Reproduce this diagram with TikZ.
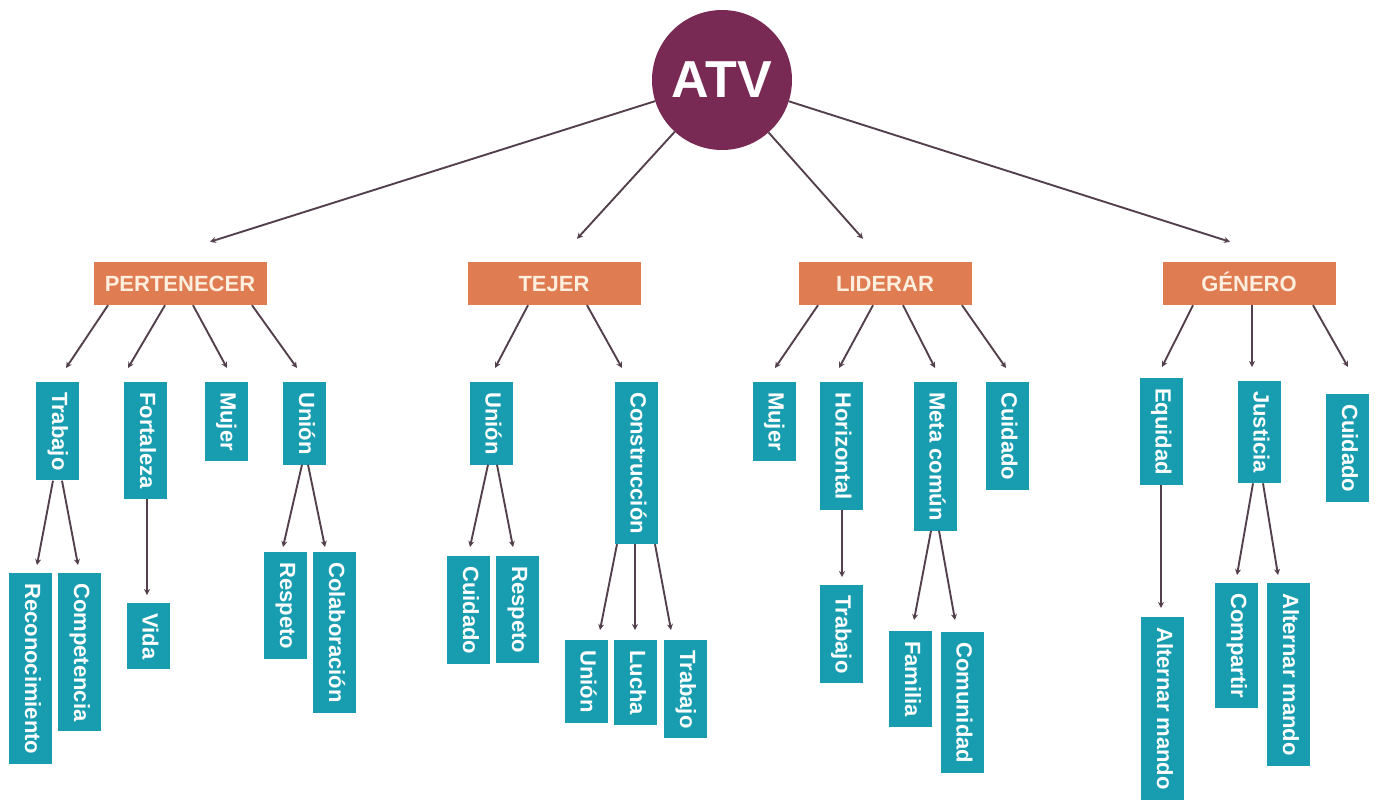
\documentclass[tikz,border=0pt]{standalone}
\usepackage{fontspec}
\setmainfont{Liberation Sans}
\usetikzlibrary{arrows.meta, calc}
\definecolor{myteal}{RGB}{24,157,176}
\definecolor{myorange}{RGB}{224,124,82}
\definecolor{mywine}{RGB}{121,42,84}
\definecolor{mycream}{RGB}{253,238,222}
\definecolor{myline}{RGB}{84,64,76}
\tikzstyle{circ} = [circle, fill=mywine, minimum size=140pt, inner sep=0,
    text=white, font=\fontsize{52}{52}\selectfont\bfseries]
\tikzstyle{orangebox} = [fill=myorange, minimum width=173pt, minimum height=43pt,
    inner sep=0, text height=16pt, text depth=0pt, text=mycream,
    font=\fontsize{22}{26}\selectfont\bfseries]
\tikzstyle{tealbox} = [fill=myteal, rotate=-90, anchor=west, minimum height=43pt,
    inner xsep=10pt, inner ysep=0, text height=16pt, text depth=5pt,
    text=white, font=\fontsize{22}{26}\selectfont\bfseries]
\tikzstyle{arr} = [myline, line width=1.9pt, -{Stealth[length=6pt,width=6pt]}]

\begin{document}
\begin{tikzpicture}[x=1pt, y=-1pt]
\useasboundingbox (0,0) rectangle (1378,801);

% 1. Root
\node[circ] (atv) at (722,80) {ATV};

% 2. Categories
\node[orangebox] (pert) at (180,283.5) {PERTENECER};
\node[orangebox] (tej) at (554,283.5) {TEJER};
\node[orangebox] (lid) at (885,283.5) {LIDERAR};
\node[orangebox] (gen) at (1249,283.5) {GÉNERO};

\draw[arr] (atv) -- ([xshift=30pt, yshift=20pt]pert.north);
\draw[arr] (atv) -- ([xshift=23pt, yshift=23pt]tej.north);
\draw[arr] (atv) -- ([xshift=-22pt, yshift=23pt]lid.north);
\draw[arr] (atv) -- ([xshift=-19pt, yshift=20pt]gen.north);

%%% PERTENECER
\node[tealbox] (trab1) at (57.5,382) {Trabajo};
\node[tealbox] (fort) at (145.5,382) {Fortaleza};
\node[tealbox] (muj1) at (226,382) {Mujer};
\node[tealbox] (union1) at (304.5,382) {Unión};
\node[tealbox] (recon) at (30.5,573) {Reconocimiento};
\node[tealbox] (compet) at (79.5,573) {Competencia};
\node[tealbox] (vida) at (148,603) {Vida};
\node[tealbox] (resp1) at (285.5,552) {Respeto};
\node[tealbox] (colab) at (334.5,552) {Colaboración};

\draw[arr] ([xshift=-72pt]pert.south) -- ([xshift=8.5pt, yshift=14pt]trab1.west);
\draw[arr] ([xshift=-15pt]pert.south) -- ([xshift=-17.5pt, yshift=14pt]fort.west);
\draw[arr] ([xshift=13pt]pert.south) -- ([xshift=1pt, yshift=14pt]muj1.west);
\draw[arr] ([xshift=72pt]pert.south) -- ([xshift=-7.5pt, yshift=14pt]union1.west);
\draw[arr] ([xshift=-4.5pt]trab1.east) -- ([xshift=6.5pt, yshift=8pt]recon.west);
\draw[arr] ([xshift=4.5pt]trab1.east) -- ([xshift=-1.5pt, yshift=8pt]compet.west);
\draw[arr] ([xshift=1.5pt]fort.east) -- ([xshift=-1pt, yshift=8pt]vida.west);
\draw[arr] ([xshift=-2.5pt]union1.east) -- ([xshift=-2.5pt, yshift=5pt]resp1.west);
\draw[arr] ([xshift=3.5pt]union1.east) -- ([xshift=-9.5pt, yshift=5pt]colab.west);

%%% TEJER
\node[tealbox] (union2) at (491,382) {Unión};
\node[tealbox] (constr) at (636,382) {Construcción};
\node[tealbox] (cuid3) at (468.5,556) {Cuidado};
\node[tealbox] (resp2) at (517.5,556) {Respeto};
\node[tealbox] (union3) at (586,640) {Unión};
\node[tealbox] (lucha) at (635.5,640) {Lucha};
\node[tealbox] (trab2) at (685.5,640) {Trabajo};

\draw[arr] ([xshift=-26pt]tej.south) -- ([xshift=4pt, yshift=14pt]union2.west);
\draw[arr] ([xshift=33pt]tej.south) -- ([xshift=-14pt, yshift=14pt]constr.west);
\draw[arr] ([xshift=-3pt]union2.east) -- ([xshift=1.5pt, yshift=9pt]cuid3.west);
\draw[arr] ([xshift=6pt]union2.east) -- ([xshift=-4.5pt, yshift=9pt]resp2.west);
\draw[arr] ([xshift=-19pt]constr.east) -- ([xshift=14pt, yshift=10pt]union3.west);
\draw[arr] ([xshift=-1pt]constr.east) -- ([xshift=-0.5pt, yshift=10pt]lucha.west);
\draw[arr] ([xshift=19pt]constr.east) -- ([xshift=-14.5pt, yshift=10pt]trab2.west);

%%% LIDERAR
\node[tealbox] (muj2) at (774,382) {Mujer};
\node[tealbox] (horiz) at (841,382) {Horizontal};
\node[tealbox] (meta) at (935,382) {Meta común};
\node[tealbox] (cuid1) at (1007,382) {Cuidado};
\node[tealbox] (trab3) at (841,585) {Trabajo};
\node[tealbox] (famil) at (910.5,631) {Familia};
\node[tealbox] (comun) at (962,632) {Comunidad};

\draw[arr] ([xshift=-67pt]lid.south) -- ([xshift=1pt, yshift=14pt]muj2.west);
\draw[arr] ([xshift=-12pt]lid.south) -- ([xshift=-2pt, yshift=14pt]horiz.west);
\draw[arr] ([xshift=18pt]lid.south) -- ([yshift=14pt]meta.west);
\draw[arr] ([xshift=77pt]lid.south) -- ([xshift=-1pt, yshift=14pt]cuid1.west);
\draw[arr] ([xshift=1pt]horiz.east) -- ([xshift=1pt, yshift=8pt]trab3.west);
\draw[arr] ([xshift=-4pt]meta.east) -- ([xshift=3.5pt, yshift=11pt]famil.west);
\draw[arr] ([xshift=4pt]meta.east) -- ([xshift=-7pt, yshift=12pt]comun.west);

%%% GENERO
\node[tealbox] (equid) at (1161,378) {Equidad};
\node[tealbox] (just) at (1259,381) {Justicia};
\node[tealbox] (cuid2) at (1347.5,394) {Cuidado};
\node[tealbox] (alt1) at (1162.5,617) {Alternar mando};
\node[tealbox] (compa) at (1236.5,583) {Compartir};
\node[tealbox] (alt2) at (1288.5,583) {Alternar mando};

\draw[arr] ([xshift=-56pt]gen.south) -- ([xshift=1pt, yshift=11pt]equid.west);
\draw[arr] ([xshift=3pt]gen.south) -- ([xshift=-7pt, yshift=14pt]just.west);
\draw[arr] ([xshift=64pt]gen.south) -- ([xshift=0.5pt, yshift=27pt]cuid2.west);
\draw[arr] (equid.east) -- ([xshift=-1.5pt, yshift=9pt]alt1.west);
\draw[arr] ([xshift=-6pt]just.east) -- ([xshift=0.5pt, yshift=8pt]compa.west);
\draw[arr] ([xshift=4pt]just.east) -- ([xshift=-10.5pt, yshift=8pt]alt2.west);

\end{tikzpicture}
\end{document}
